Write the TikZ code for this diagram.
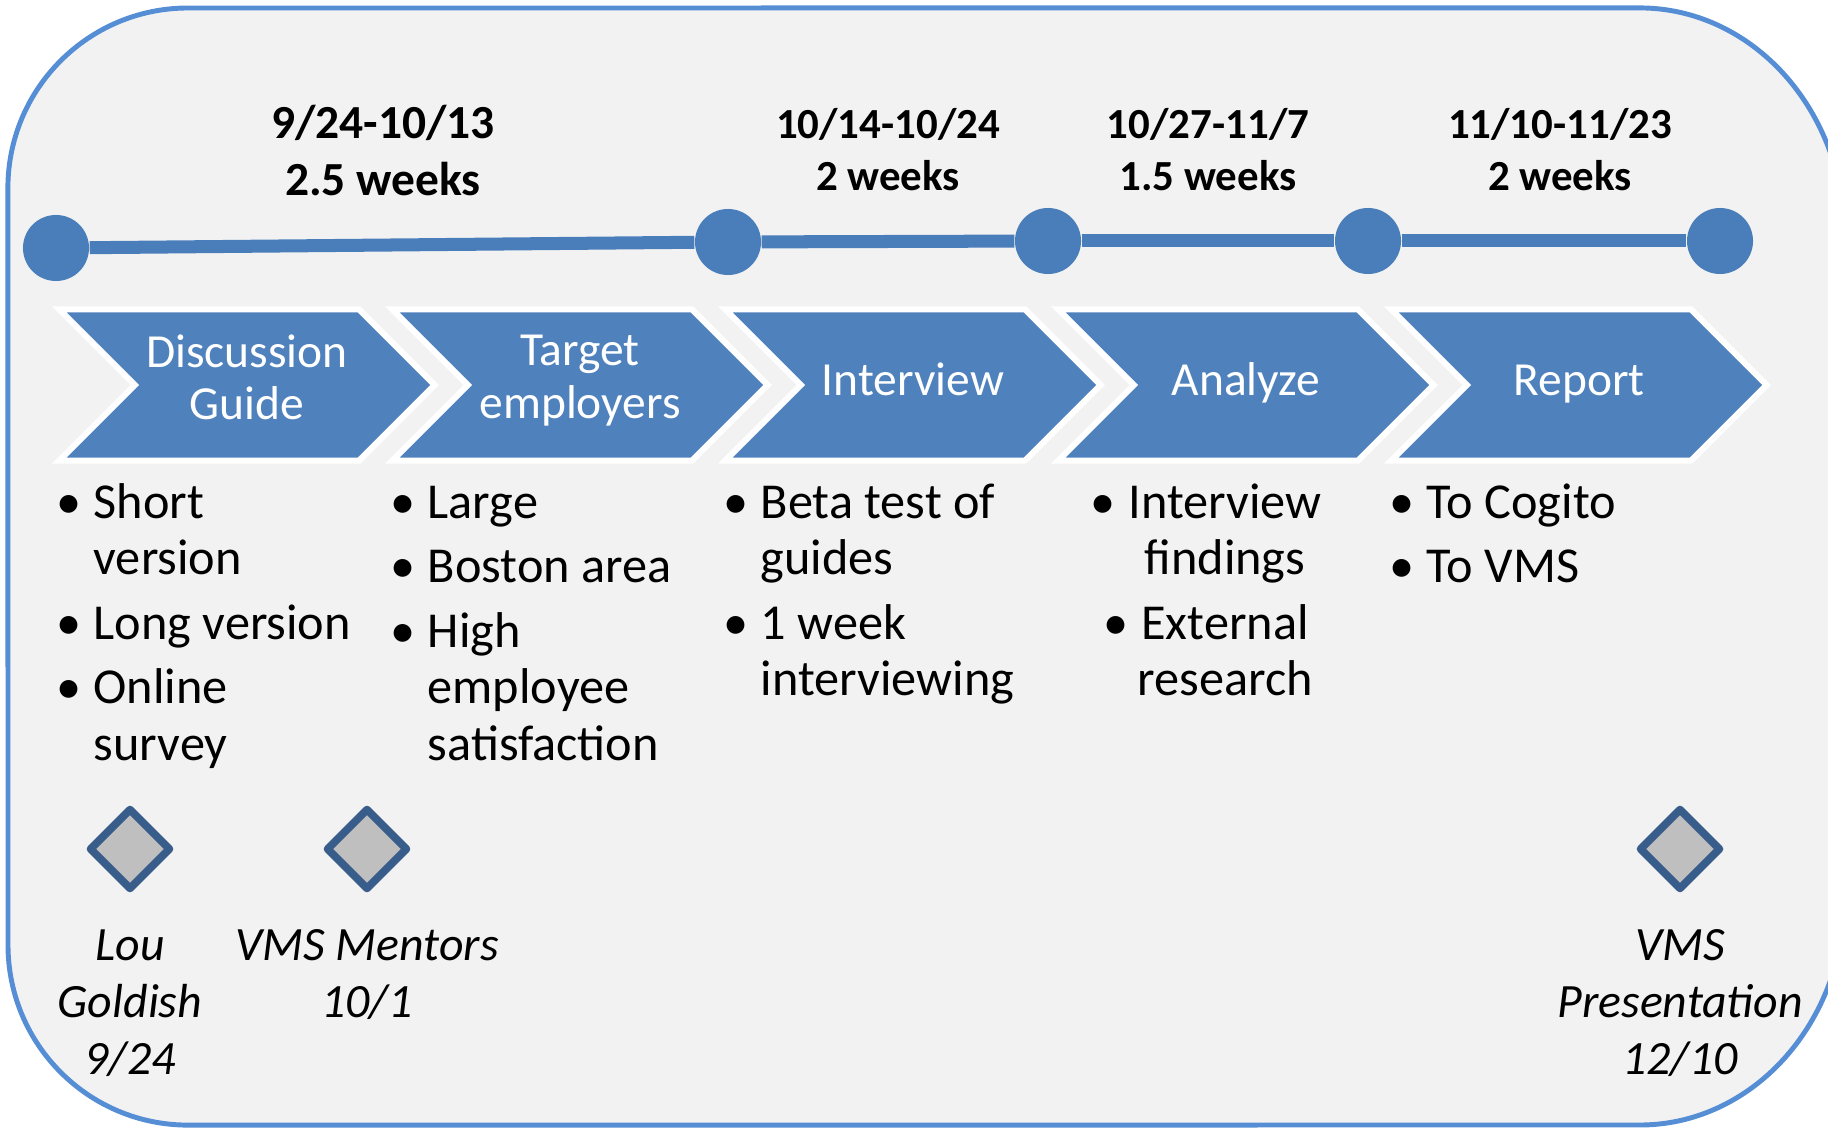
\documentclass[tikz,border=0pt]{standalone}
\usepackage{fontspec}
\setmainfont{Carlito}
\usetikzlibrary{positioning}
\usetikzlibrary{shapes.symbols,shapes.geometric}

\definecolor{frameblue}{HTML}{558ED5}
\definecolor{stepblue}{HTML}{4F81BD}
\definecolor{trackblue}{HTML}{4A7EBB}
\definecolor{panelgray}{HTML}{F2F2F2}
\definecolor{markgray}{HTML}{BFBFBF}
\definecolor{markblue}{HTML}{385D8A}

% bullet hung to the left of the text
\newcommand{\bul}{\strut\llap{•\hspace{3.6pt}}}

\begin{document}
\begin{tikzpicture}[
  x=0.01cm, y=-0.01cm, % one unit = one pixel of the slide
  chevron/.style={
    signal, signal from=west, signal to=east, signal pointer angle=90,
    fill=stepblue, draw=white, line width=1.7pt,
    minimum width=3.75cm, minimum height=1.51cm, inner sep=0pt,
    text=white, align=center,
    font=\fontsize{13.5}{15}\selectfont,
    execute at begin node=\strut, execute at end node=\strut
  },
  stopdot/.style={circle, fill=trackblue, minimum size=0.66cm, inner sep=0pt},
  track/.style={trackblue, line width=3.7pt},
  spanlabel/.style={anchor=north, align=center, inner sep=0pt,
    font=\bfseries\fontsize{12.2}{14.9}\selectfont},
  notes/.style={anchor=north west, align=left, inner sep=0pt,
    font=\fontsize{14.3}{16}\selectfont},
  milestone/.style={diamond, aspect=1, fill=markgray, draw=markblue,
    line width=2.2pt, line join=round, minimum width=0.82cm,
    minimum height=0.82cm, inner sep=0pt},
  who/.style={anchor=north, align=center, inner sep=0pt,
    font=\itshape\fontsize{13.6}{16.2}\selectfont}
]
\useasboundingbox (0,0) rectangle (1828,1128);
\clip (0,0) rectangle (1828,1128);
\fill[white] (0,0) rectangle (1828,1128);
% frame, its right side runs off the slide
\fill[panelgray]
  (188,8) -- (1640,8)
  arc[start angle=90, end angle=0, x radius=2.05cm, y radius=2.3cm]
  -- (1845,895)
  arc[start angle=0, end angle=-90, x radius=2.05cm, y radius=2.3cm]
  -- (188,1125)
  arc[start angle=270, end angle=180, radius=1.8cm]
  -- (8,188)
  arc[start angle=180, end angle=90, radius=1.8cm] -- cycle;
\draw[frameblue, line width=1.4pt]
  (1838,178.5)
  arc[start angle=15, end angle=90, x radius=2.05cm, y radius=2.3cm]
  -- (188,8)
  arc[start angle=90, end angle=180, radius=1.8cm]
  -- (8,945)
  arc[start angle=180, end angle=270, radius=1.8cm]
  -- (1640,1125)
  arc[start angle=270, end angle=345, x radius=2.05cm, y radius=2.3cm];

% timeline
\node[stopdot] (t1) at (56,248) {};
\node[stopdot] (t2) at (728,242) {};
\node[stopdot] (t3) at (1048,241) {};
\node[stopdot] (t4) at (1368,241) {};
\node[stopdot] (t5) at (1720,241) {};
\foreach \a/\b in {t1/t2,t2/t3,t3/t4,t4/t5}
  \draw[track] (\a) -- (\b);

\node[spanlabel, font=\bfseries\fontsize{13.5}{16.2}\selectfont] (w1) at (383,98) {\strut 9/24-10/13\\2.5 weeks};
\node[spanlabel] (w2) at (888,101) {\strut 10/14-10/24\\2 weeks};
\node[spanlabel] (w3) at (1208,101) {\strut 10/27-11/7\\1.5 weeks};
\node[spanlabel] (w4) at (1560,101) {\strut 11/10-11/23\\2 weeks};

% phases
\node[chevron] (p1) at (247,385) {Discussion\\Guide};
\node[chevron] (p2) at (580,385) {Target\\employers};
\node[chevron] (p3) at (913,385) {Interview};
\node[chevron] (p4) at (1246,385) {Analyze};
\node[chevron] (p5) at (1579,385) {Report};

% tasks under each phase
\node[notes] (n1) at (93,478) {\bul Short\\version\\[2.4pt]\bul Long version\\[2.4pt]\bul Online\\survey};
\node[notes] (n2) at (427,478) {\bul Large\\[2.4pt]\bul Boston area\\[2.4pt]\bul High\\employee\\satisfaction};
\node[notes] (n3) at (760,478) {\bul Beta test of\\guides\\[2.4pt]\bul 1 week\\interviewing};
\node[notes, anchor=north, align=center] (n4) at (1225,478) {\bul Interview\\findings\\[2.4pt]\bul External\\research};
\node[notes] (n5) at (1426,478) {\bul To Cogito\\[2.4pt]\bul To VMS};

% milestones
\node[milestone] (d1) at (130,849) {};
\node[milestone] (d2) at (367,849) {};
\node[milestone] (d3) at (1680,849) {};

\node[who, below=0.26cm of d1] (m1) {\strut Lou\\Goldish\\9/24};
\node[who, below=0.26cm of d2] (m2) {\strut VMS Mentors\\10/1};
\node[who, below=0.26cm of d3] (m3) {\strut VMS\\Presentation\\12/10};
\end{tikzpicture}
\end{document}
